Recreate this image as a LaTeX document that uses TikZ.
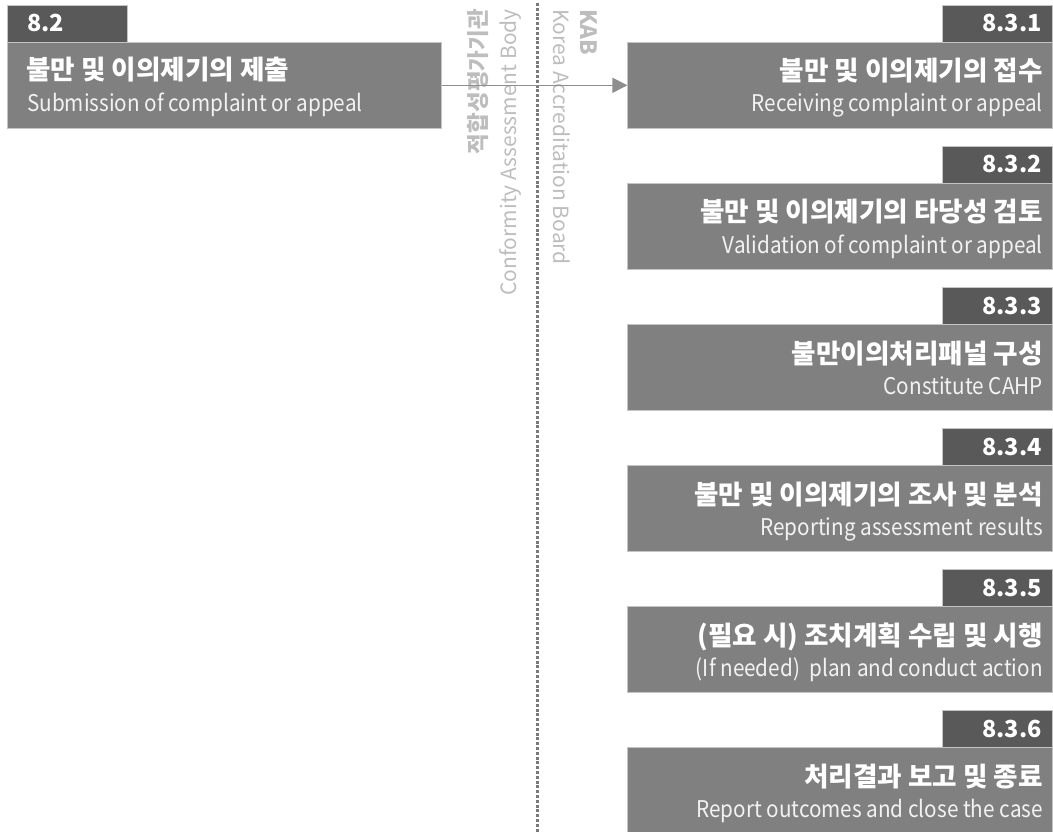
\documentclass[tikz,border=0pt]{standalone}
\usepackage{fontspec}
\setmainfont{Noto Sans CJK KR}
\newfontfamily\engfont[FakeStretch=0.9]{Noto Sans CJK KR}
\usetikzlibrary{arrows.meta}
\definecolor{tabgray}{HTML}{595959}
\definecolor{boxgray}{HTML}{808080}
\definecolor{edgegray}{HTML}{C4C4C4}
\definecolor{vtxt}{HTML}{BDBDBD}
\definecolor{arrgray}{HTML}{8E8E8E}
\definecolor{dotgray}{HTML}{7A7A7A}
\definecolor{engwhite}{HTML}{F2F2F2}
\tikzset{
  tabbox/.style={fill=tabgray, draw=edgegray, line width=0.6pt, inner sep=0pt, minimum width=#1, minimum height=37pt},
  mainbox/.style={fill=boxgray, draw=edgegray, line width=0.6pt, inner sep=0pt, minimum width=#1, minimum height=86pt},
  tabtxt/.style={text=white, inner sep=0pt, font=\fontsize{23.5}{26}\selectfont\bfseries},
  kortxt/.style={text=white, inner sep=0pt, font=\fontsize{26.6}{30}\selectfont\bfseries},
  engtxt/.style={text=engwhite, inner sep=0pt, font=\engfont\fontsize{23}{26}\selectfont},
  vkor/.style={text=vtxt, inner sep=0pt, font=\fontsize{22.5}{26}\selectfont\bfseries},
  veng/.style={text=vtxt, inner sep=0pt, font=\fontsize{21}{24}\selectfont},
  arr/.style={draw=arrgray, line width=1.5pt, -{Triangle[length=15pt,width=15pt]}},
  dotline/.style={draw=dotgray, line width=3pt, dash pattern=on 3pt off 1.8pt}
}
\newcommand{\rstep}[5]{%
  \node[tabbox=110pt, anchor=north east] (#1tab) at (1053,#2) {};
  \node[tabtxt, anchor=base east] (#1num) at ([xshift=-11pt,yshift=-27pt]#1tab.north east) {#3};
  \node[mainbox=425pt, anchor=north east] (#1box) at (1053,#2+37) {};
  \node[kortxt, anchor=base east] (#1kor) at ([xshift=-10pt,yshift=-39pt]#1box.north east) {#4};
  \node[engtxt, anchor=base east] (#1eng) at ([xshift=-10pt,yshift=-70pt]#1box.north east) {#5};
}
\begin{document}
\begin{tikzpicture}[x=1pt,y=-1pt]
\useasboundingbox (0,0) rectangle (1053,832);
% left step
\node[tabbox=120pt, anchor=north west] (ltab) at (7,5) {};
\node[tabtxt, anchor=base west] (lnum) at ([xshift=20pt,yshift=-27pt]ltab.north west) {8.2};
\node[mainbox=434pt, anchor=north west] (lbox) at (7,42) {};
\node[kortxt, anchor=base west] (lkor) at ([xshift=19pt,yshift=-38pt]lbox.north west) {불만 및 이의제기의 제출};
\node[engtxt, anchor=base west] (leng) at ([xshift=20pt,yshift=-70pt]lbox.north west) {Submission of complaint or appeal};
% right steps
\rstep{a}{5}{8.3.1}{불만 및 이의제기의 접수}{Receiving complaint or appeal}
\rstep{b}{146}{8.3.2}{불만 및 이의제기의 타당성 검토}{Validation of complaint or appeal}
\rstep{c}{287}{8.3.3}{불만이의처리패널 구성}{Constitute CAHP}
\rstep{d}{428}{8.3.4}{불만 및 이의제기의 조사 및 분석}{Reporting assessment results}
\rstep{e}{569}{8.3.5}{(필요 시) 조치계획 수립 및 시행}{(If needed)\ \ plan and conduct action}
\rstep{f}{710}{8.3.6}{처리결과 보고 및 종료}{Report outcomes and close the case}
% divider
\coordinate (dtop) at (537,3);
\coordinate (dbot) at (537,832);
\draw[dotline] (dtop) -- (dbot);
% vertical labels
\node[vkor, rotate=90, anchor=base east] (cabk) at (486,9) {적합성평가기관};
\node[veng, rotate=90, anchor=base east] (cabe) at (516,9) {Conformity Assessment Body};
\node[vkor, rotate=-90, anchor=base west] (kabk) at (580,9) {KAB};
\node[veng, rotate=-90, anchor=base west] (kabe) at (553,9) {Korea Accreditation Board};
% arrow
\draw[arr] (lbox.east) -- (abox.west);
\end{tikzpicture}
\end{document}
